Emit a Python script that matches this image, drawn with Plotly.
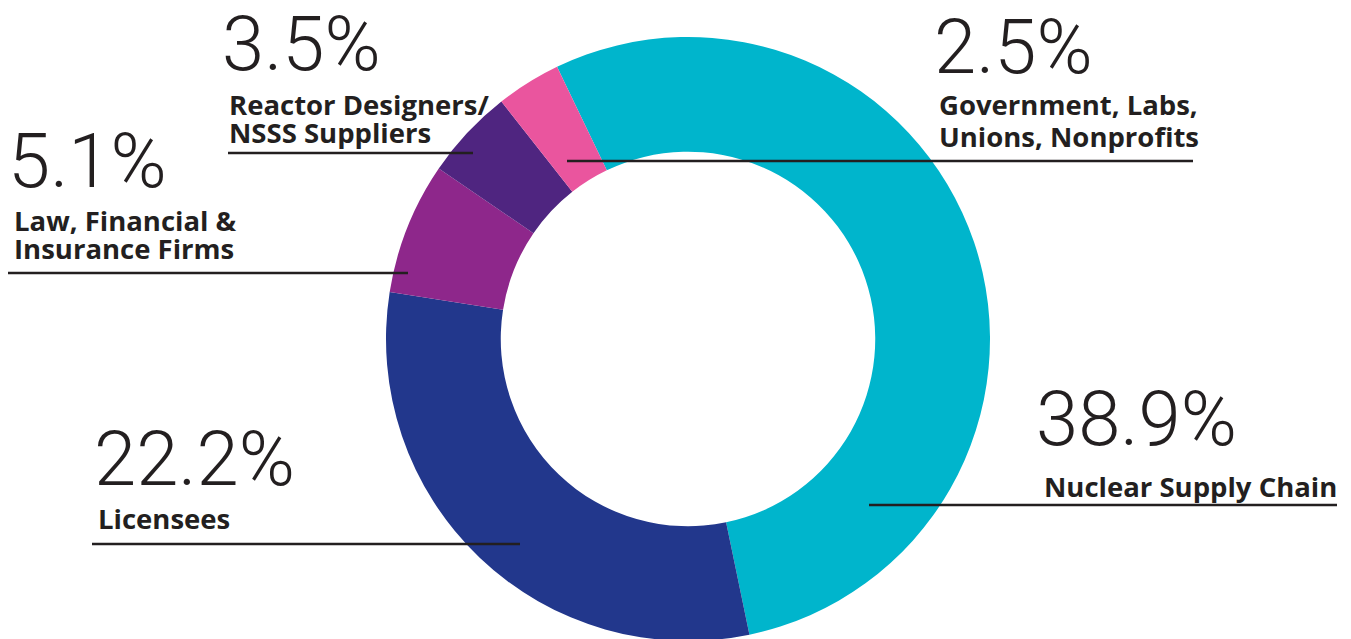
import plotly.graph_objects as go

# ---------------- data ----------------
categories = [
    "Nuclear Supply Chain",
    "Licensees",
    "Law, Financial & Insurance Firms",
    "Reactor Designers/NSSS Suppliers",
    "Government, Labs, Unions, Nonprofits",
]
values = [38.9, 22.2, 5.1, 3.5, 2.5]
label_lines = [
    ["Nuclear Supply Chain"],
    ["Licensees"],
    ["Law, Financial &", "Insurance Firms"],
    ["Reactor Designers/", "NSSS Suppliers"],
    ["Government, Labs,", "Unions, Nonprofits"],
]

# ---------------- style / layout ----------------
colors = ["#00B5CC", "#22378C", "#8E278B", "#4F2580", "#EA559E"]
TEXT_COLOR = "#231F20"
W, H = 1351, 660          # figure size (page shows top-left 1351x639 area)
OFF = 8                   # default body margin of the html page

NUM_SIZE = 76
LBL_SIZE = 27.5

# screen-pixel positions: numbers (left x, box-top y)
number_pos = [(1034, 372), (92, 412), (6, 114), (220, -3), (932, 0)]
# label lines: (left x, baseline y)
label_pos = [
    [(1042, 496)],
    [(96, 528)],
    [(12, 230), (12, 258)],
    [(227, 114), (227, 142)],
    [(937, 114), (937, 146)],
]
# leader lines: (y, x0, x1) screen px
leaders = [(505, 869, 1337), (544, 92, 520), (273, 7, 408), (153, 228, 473), (161, 567, 1193)]

cx, cy, r = 688, 339, 302   # screen px


def px(x):
    return (x - OFF) / W


def py(y):
    return 1 - (y - OFF) / H


fig = go.Figure(
    go.Pie(
        labels=categories,
        values=values,
        sort=False,
        direction="clockwise",
        rotation=-25.7,
        hole=0.62,
        marker=dict(colors=colors, line=dict(width=0)),
        textinfo="none",
        hoverinfo="label+value",
        domain=dict(x=[px(cx - r), px(cx + r)], y=[py(cy + r), py(cy - r)]),
        showlegend=False,
    )
)

annotations = []
for i, v in enumerate(values):
    nx, ny = number_pos[i]
    annotations.append(
        dict(
            x=px(nx), y=py(ny), xref="paper", yref="paper",
            xanchor="left", yanchor="top", showarrow=False,
            text=f"{v}%",
            font=dict(family="Roboto", size=NUM_SIZE, weight=300, color=TEXT_COLOR),
        )
    )
    for line, (lx, lb) in zip(label_lines[i], label_pos[i]):
        top = lb - (1.069 * LBL_SIZE + 1)
        annotations.append(
            dict(
                x=px(lx), y=py(top), xref="paper", yref="paper",
                xanchor="left", yanchor="top", showarrow=False,
                text=line,
                font=dict(family="Open Sans", size=LBL_SIZE, weight=700, color=TEXT_COLOR),
            )
        )

shapes = []
for (y, x0, x1) in leaders:
    shapes.append(
        dict(
            type="line", xref="paper", yref="paper",
            x0=px(x0), x1=px(x1), y0=py(y), y1=py(y),
            line=dict(color=TEXT_COLOR, width=2.5),
            layer="above",
        )
    )

fig.update_layout(
    width=W, height=H,
    margin=dict(l=0, r=0, t=0, b=0),
    paper_bgcolor="white", plot_bgcolor="white",
    annotations=annotations, shapes=shapes,
)

fig.write_html("out.html")
